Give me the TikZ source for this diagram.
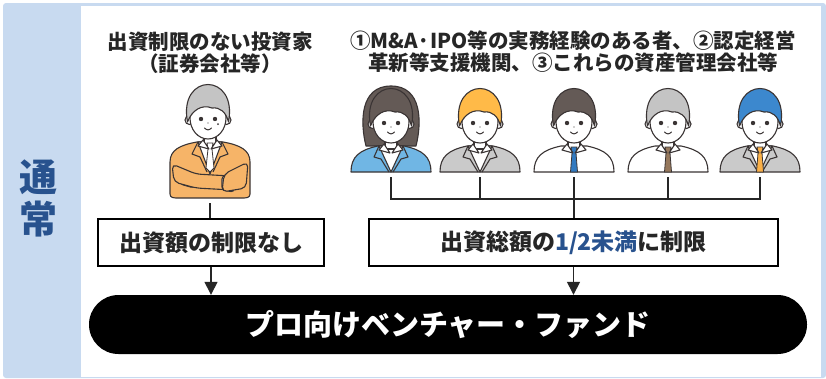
\documentclass[tikz,border=0pt]{standalone}
\usepackage{fontspec}
\newfontfamily\jp{Noto Sans CJK JP}
\usetikzlibrary{arrows.meta}

\definecolor{frameblue}{RGB}{200,218,240}
\definecolor{navy}{RGB}{40,82,142}
\definecolor{ink}{RGB}{58,52,52}
\definecolor{suitorange}{RGB}{246,180,104}
\definecolor{suitblue}{RGB}{112,182,228}
\definecolor{suitgray}{RGB}{202,202,202}
\definecolor{hairdark}{RGB}{100,90,86}
\definecolor{hairorange}{RGB}{255,186,72}
\definecolor{hairgray}{RGB}{196,196,196}
\definecolor{hairblue}{RGB}{60,136,206}
\definecolor{tieblue}{RGB}{50,122,192}
\definecolor{tiebrown}{RGB}{150,120,92}
\definecolor{tieorange}{RGB}{250,176,72}

% markers for the member pic
\def\plainshirt{white}
\def\notie{none}

\tikzset{
  outline/.style={draw=ink,line width=1.1pt,line join=round},
  heading/.style={font=\jp\bfseries\fontsize{20.5}{22}\selectfont,align=center,text=black!85},
  limitbox/.style={draw=black,line width=1.3pt,fill=white,minimum height=47pt,
    font=\jp\bfseries\fontsize{23}{25}\selectfont,text=black!85},
  fund/.style={fill=black,rounded corners=29.5pt,minimum width=718pt,minimum height=59pt,
    text=white,font=\jp\bfseries\fontsize{29}{31}\selectfont},
  link/.style={draw=black!85,line width=1.4pt},
  flow/.style={link,-{Triangle[width=13pt,length=13pt]}},
  % face, ears and hair cap, origin at the centre of the face
  pics/head/.style={code={
    \path[outline,fill=white] (-18.5,2) circle[radius=4.5] (18.5,2) circle[radius=4.5];
    \path[outline,fill=white] (0,0) ellipse[x radius=18,y radius=21];
    \path[outline,fill=#1] (-20.5,4) .. controls (-30,-46) and (30,-46) .. (20.5,4)
      .. controls (18,-6) and (12,-11) .. (4,-10) .. controls (-6,-14) and (-16,-8) .. (-20.5,4) -- cycle;
    \fill[ink] (-7,1) circle[radius=2.2] (7,1) circle[radius=2.2] (0,5) circle[radius=0.7];
    \draw[ink,line width=1pt,line cap=round] (-3.5,10) .. controls (-1,12.5) and (1,12.5) .. (3.5,10);
  }},
  % bust: #1 hair, #2 suit (white = shirt only), #3 tie (none = no tie)
  pics/member/.style n args={3}{code={
    \edef\suitcol{#2}\edef\tiecol{#3}
    \path[outline,fill=#2] (-40,0) .. controls (-40,-15) and (-32,-22) .. (-13,-26)
      -- (13,-26) .. controls (32,-22) and (40,-15) .. (40,0) -- cycle;
    \ifx\suitcol\plainshirt\else
      \path[outline,fill=white] (-12,-26) -- (0,0) -- (12,-26) -- cycle;
      \draw[outline] (-12,-26) -- (-17,-15) -- (-10,-13) -- (-2,0)
        (12,-26) -- (17,-15) -- (10,-13) -- (2,0);
    \fi
    \path[outline,fill=white] (-6,-33) rectangle (6,-23);
    \ifx\tiecol\notie\else
      \path[outline,line width=0.8pt,fill=#3] (-3,-25) -- (3,-25) -- (2,-19) -- (3.5,0)
        -- (-3.5,0) -- (-2,-19) -- cycle;
    \fi
    \path[outline,fill=white] (-7,-28) -- (-1,-19) -- (-12,-22) -- cycle;
    \path[outline,fill=white] (7,-28) -- (1,-19) -- (12,-22) -- cycle;
    \pic at (0,-50) {head=#1};
    \coordinate (-foot) at (0,5);
  }},
  % bob hair behind the face
  pics/bob/.style={code={
    \path[outline,fill=#1] (-25,24) .. controls (-31,0) and (-31,-36) .. (0,-36)
      .. controls (31,-36) and (31,0) .. (25,24) -- cycle;
  }},
  % investor with folded arms
  pics/investor/.style={code={
    \path[outline,fill=suitorange] (-40,-4) -- (-40,-36) .. controls (-40,-48) and (-30,-53) .. (-13,-56)
      -- (13,-56) .. controls (30,-53) and (40,-48) .. (40,-36) -- (40,-4)
      .. controls (40,0) and (36,0) .. (32,0) -- (-32,0) .. controls (-36,0) and (-40,0) .. (-40,-4) -- cycle;
    \path[outline,fill=white] (-12,-56) -- (0,-24) -- (12,-56) -- cycle;
    \draw[outline] (-12,-56) -- (-18,-44) -- (-10,-41) -- (-3,-26)
      (12,-56) -- (18,-44) -- (10,-41) -- (3,-26);
    \path[outline,fill=white] (-6,-63) rectangle (6,-53);
    \path[outline,line width=0.8pt,fill=white] (-3,-55) -- (3,-55) -- (2,-49) -- (4,-30)
      -- (0,-26) -- (-4,-30) -- (-2,-49) -- cycle;
    \path[outline,fill=white] (-7,-58) -- (-1,-49) -- (-12,-52) -- cycle;
    \path[outline,fill=white] (7,-58) -- (1,-49) -- (12,-52) -- cycle;
    \path[outline,fill=white,rounded corners=3pt] (-30,-26) -- (-16,-22) -- (-16,-10) -- (-30,-14) -- cycle;
    \path[outline,fill=suitorange,rounded corners=5pt] (-38,-34) -- (-14,-24) -- (20,-22) -- (22,-8)
      -- (-14,-10) -- (-36,-16) -- cycle;
    \path[outline,fill=white,rounded corners=3pt] (12,-22) -- (24,-22) -- (24,-6) -- (12,-8) -- cycle;
    \path[outline,fill=suitorange,rounded corners=5pt] (38,-36) -- (14,-24) -- (12,-6) -- (36,-10) -- cycle;
    \pic at (-2,-80) {head=hairgray};
    \fill[ink] (8,-74) circle[radius=1];
    \coordinate (-foot) at (0,5);
  }},
}

\begin{document}
\begin{tikzpicture}[x=1pt,y=-1pt]
\useasboundingbox (0,0) rectangle (826,378);
\fill[frameblue,rounded corners=3pt] (3,3) rectangle (826,378);
\fill[white] (81,6) rectangle (821,377);
\node[font=\jp\bfseries\fontsize{38}{42}\selectfont,text=navy,align=center] (usual) at (38,198) {通\\常};

% the two groups of investors
\node[heading] (invtitle) at (210,53) {出資制限のない投資家\\（証券会社等）};
\node[heading] (advtitle) at (573,52) {①M\&A·IPO等の実務経験のある者、②認定経営\\革新等支援機関、③これらの資産管理会社等};
\pic (inv) at (210,198) {investor};
\pic at (391,122) {bob=hairdark};
\foreach \i/\x/\hair/\suit/\tie in {1/391/hairdark/suitblue/none, 2/480/hairorange/suitgray/none,
  3/574/hairdark/white/tieblue, 4/668/hairgray/white/tiebrown, 5/760/hairblue/suitgray/tieorange}
  \pic (adv\i) at (\x,172) {member={\hair}{\suit}{\tie}};

% limits and the fund
\node[limitbox,minimum width=226pt] (free) at (211,242.5) {出資額の制限なし};
\node[limitbox,minimum width=409pt] (half) at (573.5,242.5) {出資総額の{\color{navy}1/2未満}に制限};
\node[fund] (fund) at (448,324.5) {プロ向けベンチャー・ファンド};

\coordinate (join) at (574,199);
\foreach \i in {1,2,4,5}
  \draw[link] (adv\i-foot) -- (adv\i-foot |- join);
\draw[link,line cap=rect] (adv1-foot |- join) -- (adv5-foot |- join);
\draw[link] (adv3-foot) -- (adv3-foot |- half.north);
\draw[link] (inv-foot) -- (inv-foot |- free.north);
\draw[flow] (free.south) -- (free.south |- fund.north);
\draw[flow] (half.south) -- (half.south |- fund.north);
\end{tikzpicture}
\end{document}
